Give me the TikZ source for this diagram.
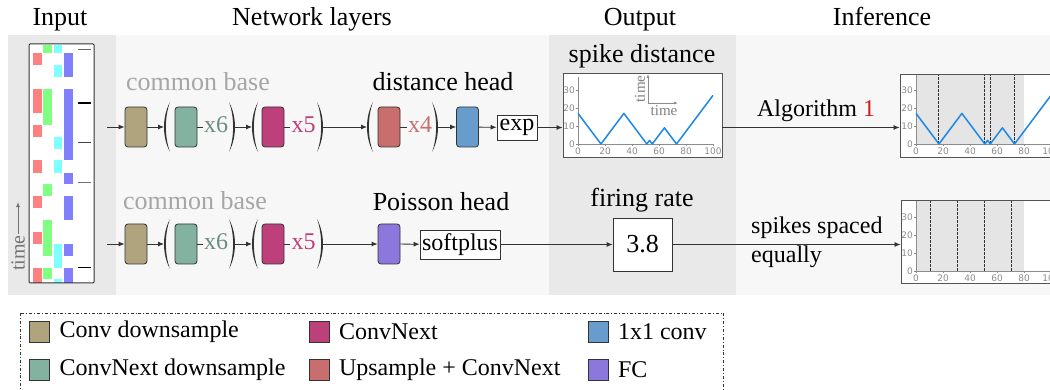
\documentclass[tikz,border=0pt]{standalone}
\usepackage{fontspec}
\setmainfont{Liberation Serif}
\newfontfamily\tickfont{DejaVu Sans}
\usetikzlibrary{positioning, arrows.meta}
\definecolor{cbase}{RGB}{176,164,127}
\definecolor{cnxds}{RGB}{132,178,160}
\definecolor{cnx}{RGB}{190,64,122}
\definecolor{cup}{RGB}{200,110,110}
\definecolor{conv}{RGB}{104,156,204}
\definecolor{cfc}{RGB}{140,120,220}
\definecolor{panelA}{RGB}{233,233,233}
\definecolor{panelB}{RGB}{247,247,247}
\definecolor{linegray}{RGB}{51,51,51}
\definecolor{spk}{RGB}{30,136,229}
\definecolor{algred}{RGB}{205,25,25}
\definecolor{rasR}{RGB}{255,128,128}
\definecolor{rasG}{RGB}{128,255,128}
\definecolor{rasC}{RGB}{128,255,255}
\definecolor{rasB}{RGB}{128,128,255}
\tikzset{block/.style={draw=linegray, line width=0.8pt, rounded corners=3pt, minimum width=22pt, minimum height=40pt, inner sep=0pt},
         fnbox/.style={draw=linegray, fill=white, line width=0.8pt, inner sep=2pt},
         plotbox/.style={draw=linegray!85, fill=white, line width=0.9pt, inner sep=0pt},
         conn/.style={draw=linegray, line width=0.8pt, -{Latex[length=6pt,width=5pt]}},
         wire/.style={draw=linegray, line width=0.8pt},
         heading/.style={font=\fontsize{26}{30}\selectfont, anchor=base},
         headlbl/.style={font=\fontsize{26}{30}\selectfont, anchor=base},
         faded/.style={text=black!35},
         rep/.style={anchor=base, inner sep=1pt},
         axis/.style={draw=black!45, line width=0.6pt},
         tick/.style={font=\tickfont\fontsize{9}{10}\selectfont, text=black!45, inner sep=1pt},
         spikeline/.style={draw=linegray, line width=1pt, dash pattern=on 2.5pt off 1.5pt},
         swatch/.style={draw=linegray, line width=1pt, minimum width=20pt, minimum height=21pt, inner sep=0pt},
         lparen/.pic={\fill[linegray] (3,-25) .. controls (-5,-10) and (-5,10) .. (3,25) .. controls (-2.5,10) and (-2.5,-10) .. (3,-25);},
         rparen/.pic={\fill[linegray] (-3,-25) .. controls (5,-10) and (5,10) .. (-3,25) .. controls (2.5,10) and (2.5,-10) .. (-3,-25);},
        }

\begin{document}
\begin{tikzpicture}[x=1pt, y=-1pt, font=\fontsize{24}{28}\selectfont]
        \useasboundingbox (0,0) rectangle (1050,390);

        % panels
        \fill[panelA] (8,35) rectangle (116,295);
        \fill[panelB] (116,35) rectangle (549,295);
        \fill[panelA] (549,35) rectangle (736,295);
        \fill[panelB] (736,35) rectangle (1050,295);

        \node[heading] (hin) at (60,26) {Input};
        \node[heading] (hnet) at (312,26) {Network layers};
        \node[heading] (hout) at (640,26) {Output};
        \node[heading] (hinf) at (882,26) {Inference};

        % input raster
        \fill[white] (29,44) rectangle (94,283);
        \foreach \a/\b in {53/65,89/113,125/137,160/173,196/208,232/244,268/283}
            \fill[rasR] (33,\a) rectangle (42,\b);
        \foreach \a/\b in {45/53,89/125,184/196,220/256,268/279}
            \fill[rasG] (43,\a) rectangle (52,\b);
        \foreach \a/\b in {45/53,65/77,137/149,160/173,244/268,279/283}
            \fill[rasC] (54,\a) rectangle (62,\b);
        \foreach \a/\b in {53/77,89/160,173/184,196/220,244/256,268/283}
            \fill[rasB] (64,\a) rectangle (73,\b);
        \draw[black!60, line width=1pt] (78,50) -- (91,50);
        \draw[black, line width=1.6pt] (78,103) -- (91,103);
        \draw[black!75, line width=1pt] (78,143) -- (91,143);
        \draw[black!55, line width=1pt] (78,183) -- (91,183);
        \draw[black, line width=1pt] (78,268) -- (91,268);
        \node[draw=linegray, line width=1pt, rounded corners=1pt, minimum width=65pt, minimum height=239pt, inner sep=0pt] (inp) at (61.5,163.5) {};
        \node[rotate=90, text=black!55, font=\fontsize{20}{22}\selectfont, inner sep=1pt] (tlab) at (18,253) {time};
        \draw[-{Latex[length=5pt,width=4pt]}, black!55, line width=0.8pt] (tlab.east) -- ++(0,-32);

        % distance branch
        \node[headlbl, faded] (base1) at (198,91) {common base};
        \node[headlbl] (dhead) at (443,91) {distance head};
        \coordinate (in1) at (107,127);
        \node[block, fill=cbase] (cb1) at (136,127) {};
        \coordinate (g1l) at (167,127);
        \node[block, fill=cnxds] (ds1) at (186,127) {};
        \node[rep, text=cnxds!80!black] (r6a) at (216,133) {x6};
        \coordinate (g1r) at (232,127);
        \coordinate (g2l) at (255,127);
        \node[block, fill=cnx] (nx1) at (273,127) {};
        \node[rep, text=cnx] (r5a) at (303.5,133) {x5};
        \coordinate (g2r) at (320,127);
        \coordinate (g3l) at (370,127);
        \node[block, fill=cup] (up1) at (389,127) {};
        \node[rep, text=cup] (r4a) at (420,133) {x4};
        \coordinate (g3r) at (435,127);
        \node[block, fill=conv] (cv1) at (467.5,127) {};
        \node[fnbox, minimum width=40pt, minimum height=25pt] (expf) at (517,127.5) {exp};
        \foreach \p in {g1l,g2l,g3l} \pic at (\p) {lparen};
        \foreach \p in {g1r,g2r,g3r} \pic at (\p) {rparen};

        \draw[conn] (in1) -- (cb1);
        \draw[conn] (cb1) -- ([xshift=-3pt]g1l);
        \draw[wire] (ds1) -- (r6a.west |- ds1);
        \draw[conn] ([xshift=3pt]g1r) -- ([xshift=-3pt]g2l);
        \draw[wire] (nx1) -- (r5a.west |- nx1);
        \draw[conn] ([xshift=3pt]g2r) -- ([xshift=-3pt]g3l);
        \draw[wire] (up1) -- (r4a.west |- up1);
        \draw[conn] ([xshift=3pt]g3r) -- (cv1);
        \draw[conn] (cv1) -- (expf);

        % poisson branch
        \node[headlbl, faded] (base2) at (195,210) {common base};
        \node[headlbl] (phead) at (441,211) {Poisson head};
        \coordinate (in2) at (107,244);
        \node[block, fill=cbase] (cb2) at (136,244) {};
        \coordinate (g4l) at (167,244);
        \node[block, fill=cnxds] (ds2) at (186,244) {};
        \node[rep, text=cnxds!80!black] (r6b) at (216,250) {x6};
        \coordinate (g4r) at (232,244);
        \coordinate (g5l) at (255,244);
        \node[block, fill=cnx] (nx2) at (273,244) {};
        \node[rep, text=cnx] (r5b) at (303.5,250) {x5};
        \coordinate (g5r) at (320,244);
        \node[block, fill=cfc] (fc2) at (389,244) {};
        \node[fnbox, minimum width=80pt, minimum height=29pt] (spf) at (460,244.5) {softplus};
        \foreach \p in {g4l,g5l} \pic at (\p) {lparen};
        \foreach \p in {g4r,g5r} \pic at (\p) {rparen};

        \draw[conn] (in2) -- (cb2);
        \draw[conn] (cb2) -- ([xshift=-3pt]g4l);
        \draw[wire] (ds2) -- (r6b.west |- ds2);
        \draw[conn] ([xshift=3pt]g4r) -- ([xshift=-3pt]g5l);
        \draw[wire] (nx2) -- (r5b.west |- nx2);
        \draw[conn] ([xshift=3pt]g5r) -- (fc2);
        \draw[conn] (fc2) -- (spf);

        % outputs
        \node[headlbl] (sdlbl) at (642,63) {spike distance};
        \node[plotbox, minimum width=159pt, minimum height=84pt] (sdplot) at (642.5,115) {};
        \begin{scope}[shift={(578pt,-144pt)}, x=1.35pt, y=1.8pt]
            \draw[axis] (0,37) -- (0,0) -- (100,0);
            \foreach \v in {0,10,20,30} {\draw[axis] (0,\v) -- (-1.5,\v); \node[tick, anchor=east] (sy\v) at (-1.5,\v) {\v};}
            \foreach \v in {0,20,...,100} {\draw[axis] (\v,0) -- (\v,-1.2); \node[tick, anchor=north] (sx\v) at (\v,-1.2) {\v};}
            \draw[spk, line width=1.5pt, line join=round] (0,17) -- (17,0) -- (34,17) -- (51,0) -- (53,2) -- (55,0) -- (64,9) -- (73,0) -- (100,27);
        \end{scope}
        \coordinate (ax0) at (648,103);
        \draw[axis, line width=0.8pt, -{Latex[length=4pt,width=3pt]}] (ax0) -- ++(0,-29);
        \draw[axis, line width=0.8pt, -{Latex[length=4pt,width=3pt]}] (ax0) -- ++(30,0);
        \node[rotate=90, text=black!50, font=\fontsize{15}{16}\selectfont, inner sep=0pt] (tv) at (640,89) {time};
        \node[text=black!50, font=\fontsize{15}{16}\selectfont, inner sep=0pt] (th) at (664,111) {time};

        \node[headlbl] (frlbl) at (642,207) {firing rate};
        \node[draw=linegray, fill=white, line width=0.8pt, minimum width=59pt, minimum height=53pt, font=\fontsize{26}{30}\selectfont] (rate) at (642.5,244.5) {3.8};
        \draw[conn] (expf) -- (expf -| sdplot.west);
        \draw[conn] (spf) -- (rate);

        % inference
        \node[plotbox, minimum width=170pt, minimum height=83pt] (alplot) at (985,115.5) {};
        \begin{scope}[shift={(916pt,-144pt)}, x=1.35pt, y=1.8pt]
            \fill[black!10] (0,0) rectangle (80,38.4);
            \draw[axis] (0,38.4) -- (0,0) -- (100,0);
            \foreach \v in {0,10,20,30} {\draw[axis] (0,\v) -- (-1.5,\v); \node[tick, anchor=east] (ay\v) at (-1.5,\v) {\v};}
            \foreach \v in {0,20,...,100} {\draw[axis] (\v,0) -- (\v,-1.2); \node[tick, anchor=north] (ax\v) at (\v,-1.2) {\v};}
            \foreach \s in {17,51,55,73} \draw[spikeline] (\s,0) -- (\s,38.4);
            \draw[spk, line width=1.5pt, line join=round] (0,17) -- (17,0) -- (34,17) -- (51,0) -- (53,2) -- (55,0) -- (64,9) -- (73,0) -- (100,27);
        \end{scope}
        \node[plotbox, minimum width=170pt, minimum height=83pt] (evplot) at (986,241.5) {};
        \begin{scope}[shift={(916pt,-271pt)}, x=1.35pt, y=1.8pt]
            \fill[black!10] (0,0) rectangle (80,38.9);
            \draw[axis] (0,38.9) -- (0,0) -- (100,0);
            \foreach \v in {0,10,20,30} {\draw[axis] (0,\v) -- (-1.5,\v); \node[tick, anchor=east] (ey\v) at (-1.5,\v) {\v};}
            \foreach \v in {0,20,...,100} {\draw[axis] (\v,0) -- (\v,-1.2); \node[tick, anchor=north] (ex\v) at (\v,-1.2) {\v};}
            \foreach \s in {11,31,51,71} \draw[spikeline] (\s,0) -- (\s,38.9);
        \end{scope}

        \node[anchor=base] (alg) at (816,117) {Algorithm \textcolor{algred}{1}};
        \draw[conn] (sdplot.east |- expf) -- (expf -| alplot.west);
        \node[anchor=west, align=left, inner sep=0pt, font=\fontsize{24}{29}\selectfont] (spc) at (751,242) {spikes spaced\\equally};
        \draw[conn] (rate) -- (rate -| evplot.west);

        % legend
        \draw[linegray, line width=0.8pt, dash dot] (20,313) rectangle (723,400);
        \node[swatch, fill=cbase, label={[label distance=6pt]right:Conv downsample}] (lg1) at (39.5,332) {};
        \node[swatch, fill=cnxds, label={[label distance=6pt]right:ConvNext downsample}] (lg2) at (39.5,370) {};
        \node[swatch, fill=cnx, label={[label distance=6pt]right:ConvNext}] (lg3) at (319,332) {};
        \node[swatch, fill=cup, label={[label distance=6pt]right:Upsample + ConvNext}] (lg4) at (319,370) {};
        \node[swatch, fill=conv, label={[label distance=6pt]right:1x1 conv}] (lg5) at (598,332) {};
        \node[swatch, fill=cfc, label={[label distance=6pt]right:FC}] (lg6) at (598,370) {};
    \end{tikzpicture}
\end{document}
